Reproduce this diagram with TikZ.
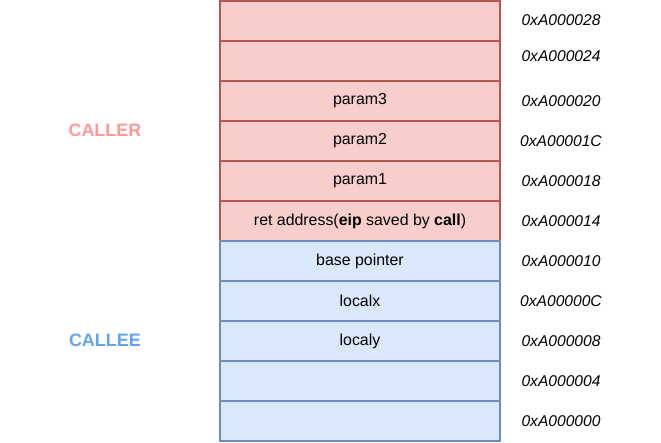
\documentclass[tikz,border=0pt]{standalone}
\usepackage{fontspec}
\setmainfont{Liberation Sans}
\definecolor{callerfill}{HTML}{F8CECC}
\definecolor{callerline}{HTML}{B85450}
\definecolor{calleefill}{HTML}{DAE8FC}
\definecolor{calleeline}{HTML}{6C8EBF}
\definecolor{callertext}{HTML}{FF9999}
\definecolor{calleetext}{HTML}{66A3EE}

\begin{document}
\begin{tikzpicture}[x=1pt,y=-1pt,font=\fontsize{15.9}{18}\selectfont,
  cell/.style={draw,line width=1.2pt,minimum width=280pt,minimum height=40pt,inner sep=0pt},
  caller/.style={cell,fill=callerfill,draw=callerline},
  callee/.style={cell,fill=calleefill,draw=calleeline},
  addr/.style={font=\fontsize{15.6}{18}\selectfont\itshape},
  side/.style={font=\fontsize{18}{21}\selectfont\bfseries}]
\useasboundingbox (0,0) rectangle (661,442);
\node[caller] (top) at (360,21) {};
\node[caller] (spare) at (360,61) {};
\node[caller] (p3) at (360,101) {param3};
\node[caller] (p2) at (360,141) {param2};
\node[caller] (p1) at (360,181) {param1};
\node[caller] (ret) at (360,221) {ret address(\textbf{eip} saved by \textbf{call})};
\node[callee] (bp) at (360,261) {base pointer};
\node[callee] (lx) at (360,301) {localx};
\node[callee] (ly) at (360,341) {localy};
\node[callee] (free1) at (360,381) {};
\node[callee] (free0) at (360,421) {};
\node[addr] (a28) at (561,20) {0xA000028};
\node[addr] (a24) at (561,56) {0xA000024};
\node[addr] (a20) at (561,101) {0xA000020};
\node[addr] (a1c) at (561,141) {0xA00001C};
\node[addr] (a18) at (561,181) {0xA000018};
\node[addr] (a14) at (561,221) {0xA000014};
\node[addr] (a10) at (561,261) {0xA000010};
\node[addr] (a0c) at (561,301) {0xA00000C};
\node[addr] (a08) at (561,341) {0xA000008};
\node[addr] (a04) at (561,381) {0xA000004};
\node[addr] (a00) at (561,421) {0xA000000};
\node[side,text=callertext] (caller) at (105,130) {CALLER};
\node[side,text=calleetext] (callee) at (105,340) {CALLEE};
\end{tikzpicture}
\end{document}
